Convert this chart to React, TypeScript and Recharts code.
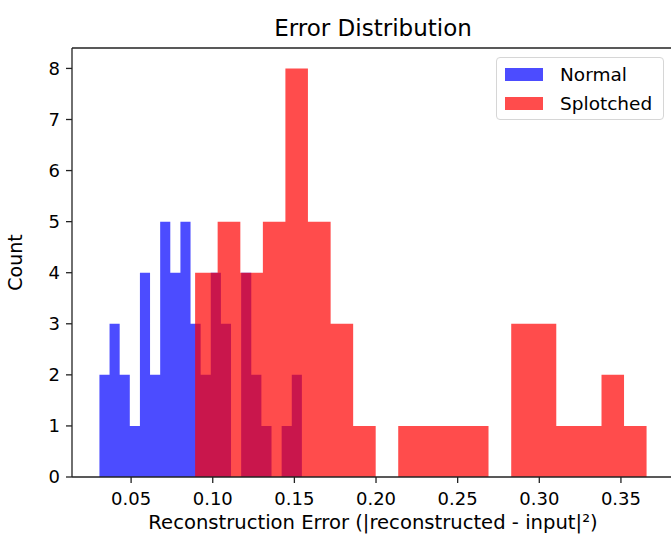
import React from "react";
import { ComposedChart, Area, XAxis, YAxis, Label, ReferenceLine } from "recharts";

// bin edges (21 edges -> 20 bins each)
const normalEdges = [
  0.0306, 0.0368, 0.043, 0.0492, 0.0554, 0.0616, 0.0678, 0.074, 0.0802, 0.0864, 0.0926,
  0.0988, 0.105, 0.1112, 0.1174, 0.1236, 0.1298, 0.136, 0.1422, 0.1484, 0.1546,
];
const normalCounts = [2, 3, 2, 1, 4, 2, 5, 4, 5, 3, 2, 4, 3, 0, 4, 2, 1, 0, 1, 2];

const splotchedEdges = [
  0.0892, 0.103, 0.1169, 0.1307, 0.1445, 0.1583, 0.1722, 0.186, 0.1998, 0.2136, 0.2275,
  0.2413, 0.2551, 0.2689, 0.2828, 0.2966, 0.3104, 0.3242, 0.3381, 0.3519, 0.3657,
];
const splotchedCounts = [4, 5, 4, 5, 8, 5, 3, 1, 0, 1, 1, 1, 1, 0, 3, 3, 1, 1, 2, 1];

const xTicks = [0.05, 0.1, 0.15, 0.2, 0.25, 0.3, 0.35];
const yTicks = [0, 1, 2, 3, 4, 5, 6, 7, 8];

const FONT = "DejaVu Sans, sans-serif";
const AXIS = "#222";

// step points: each edge carries the count of the bin that starts there
const toSteps = (edges: number[], counts: number[]) =>
  edges.map((x, i) => ({ x, count: counts[Math.min(i, counts.length - 1)] }));

const normalData = toSteps(normalEdges, normalCounts);
const splotchedData = toSteps(splotchedEdges, splotchedCounts);

const legendItems = [
  { name: "Normal", color: "rgba(0,0,255,0.7)" },
  { name: "Splotched", color: "rgba(255,0,0,0.7)" },
];

function HistLegend() {
  return (
    <div
      style={{
        position: "absolute",
        left: 496,
        top: 57,
        width: 166,
        height: 61,
        border: "1px solid #d6d6d6",
        borderRadius: 4,
        background: "rgba(255,255,255,0.8)",
        fontFamily: FONT,
        fontSize: 18.5,
        color: "#000",
      }}
    >
      {legendItems.map((it, i) => (
        <div
          key={it.name}
          style={{ position: "absolute", left: 8, top: 5 + i * 29, height: 22, display: "flex", alignItems: "center" }}
        >
          <span style={{ display: "inline-block", width: 38, height: 13, background: it.color, marginRight: 17 }} />
          <span>{it.name}</span>
        </div>
      ))}
    </div>
  );
}

export default function App() {
  return (
    <div style={{ position: "relative", width: 671, height: 534, overflow: "hidden", background: "#fff" }}>
      <style>{`body{margin:0;overflow:hidden}`}</style>
      <ComposedChart width={700} height={534} margin={{ top: 48, right: 26, bottom: 0, left: 0 }}>
        <text x={373} y={36} textAnchor="middle" fontFamily={FONT} fontSize={23} fill="#000">
          Error Distribution
        </text>
        <XAxis
          type="number"
          dataKey="x"
          domain={[0.0138, 0.3825]}
          ticks={xTicks}
          tickFormatter={(v: number) => v.toFixed(2)}
          height={57}
          tickSize={6}
          tickMargin={9}
          allowDataOverflow
          axisLine={{ stroke: AXIS, strokeWidth: 1.3 }}
          tickLine={{ stroke: AXIS, strokeWidth: 1.3 }}
          tick={{ fontFamily: FONT, fontSize: 18, fill: "#000" }}
        >
          <Label
            value="Reconstruction Error (|reconstructed - input|²)"
            position="insideBottom"
            offset={5}
            style={{ fontFamily: FONT, fontSize: 19.6, fill: "#000" }}
          />
        </XAxis>
        <YAxis
          type="number"
          domain={[0, 8.4]}
          ticks={yTicks}
          width={72}
          tickSize={6}
          tickMargin={6}
          allowDataOverflow
          axisLine={{ stroke: AXIS, strokeWidth: 1.3 }}
          tickLine={{ stroke: AXIS, strokeWidth: 1.3 }}
          tick={{ fontFamily: FONT, fontSize: 18, fill: "#000" }}
        >
          <Label
            value="Count"
            angle={-90}
            position="insideLeft"
            offset={15}
            style={{ fontFamily: FONT, fontSize: 19, fill: "#000", textAnchor: "middle" }}
          />
        </YAxis>
        <Area
          data={normalData}
          dataKey="count"
          type="stepAfter"
          fill="#0000ff"
          fillOpacity={0.7}
          stroke="none"
          dot={false}
          activeDot={false}
          isAnimationActive={false}
        />
        <Area
          data={splotchedData}
          dataKey="count"
          type="stepAfter"
          fill="#ff0000"
          fillOpacity={0.7}
          stroke="none"
          dot={false}
          activeDot={false}
          isAnimationActive={false}
        />
        <ReferenceLine y={8.4} stroke={AXIS} strokeWidth={1.3} />
      </ComposedChart>
      <HistLegend />
    </div>
  );
}
